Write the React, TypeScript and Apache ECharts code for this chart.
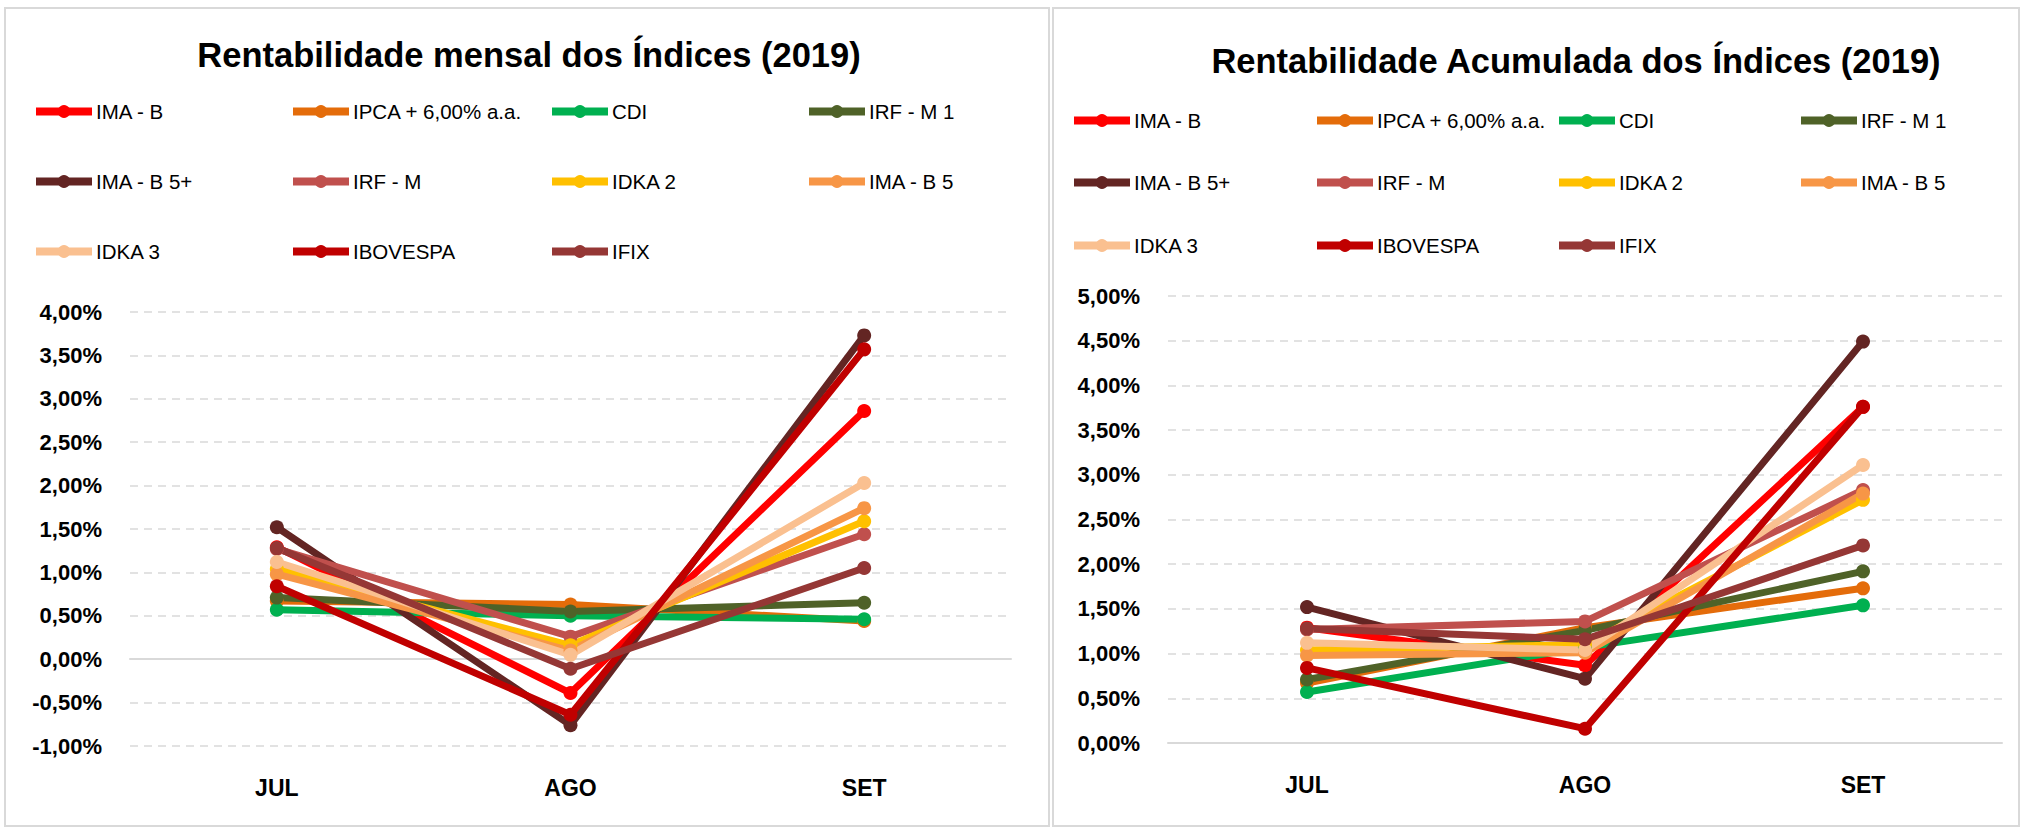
import React, { useEffect, useRef } from "react";
import * as echarts from "echarts";

const categories = ["JUL", "AGO", "SET"];
const seriesNames = [
  "IMA - B",
  "IPCA + 6,00% a.a.",
  "CDI",
  "IRF - M 1",
  "IMA - B 5+",
  "IRF - M",
  "IDKA 2",
  "IMA - B 5",
  "IDKA 3",
  "IBOVESPA",
  "IFIX",
];
const seriesColors = [
  "#FF0000",
  "#E46C0A",
  "#00B050",
  "#4F6228",
  "#632523",
  "#C0504D",
  "#FFC000",
  "#F79646",
  "#FAC090",
  "#C00000",
  "#953735",
];

// Rentabilidade mensal (%)
const monthlyImaB = [1.29, -0.39, 2.86];
const monthlyIpca = [0.67, 0.63, 0.44];
const monthlyCdi = [0.57, 0.5, 0.46];
const monthlyIrfM1 = [0.71, 0.55, 0.65];
const monthlyImaB5Plus = [1.52, -0.76, 3.73];
const monthlyIrfM = [1.27, 0.26, 1.44];
const monthlyIdka2 = [1.04, 0.16, 1.59];
const monthlyImaB5 = [0.98, 0.1, 1.74];
const monthlyIdka3 = [1.12, 0.05, 2.03];
const monthlyIbovespa = [0.84, -0.64, 3.57];
const monthlyIfix = [1.28, -0.11, 1.05];

// Rentabilidade acumulada (%)
const accImaB = [1.29, 0.87, 3.76];
const accIpca = [0.67, 1.29, 1.73];
const accCdi = [0.57, 1.07, 1.54];
const accIrfM1 = [0.71, 1.26, 1.92];
const accImaB5Plus = [1.52, 0.72, 4.49];
const accIrfM = [1.27, 1.36, 2.83];
const accIdka2 = [1.04, 1.1, 2.72];
const accImaB5 = [0.98, 1.01, 2.79];
const accIdka3 = [1.12, 1.04, 3.11];
const accIbovespa = [0.84, 0.16, 3.76];
const accIfix = [1.28, 1.16, 2.21];

const monthlyData = [
  monthlyImaB, monthlyIpca, monthlyCdi, monthlyIrfM1, monthlyImaB5Plus, monthlyIrfM,
  monthlyIdka2, monthlyImaB5, monthlyIdka3, monthlyIbovespa, monthlyIfix,
];
const accData = [
  accImaB, accIpca, accCdi, accIrfM1, accImaB5Plus, accIrfM,
  accIdka2, accImaB5, accIdka3, accIbovespa, accIfix,
];

const leftTitle = "Rentabilidade mensal dos Índices (2019)";
const rightTitle = "Rentabilidade Acumulada dos Índices (2019)";

const FONT = "'Liberation Sans', Arial, sans-serif";

export default function App() {
  const ref = useRef<HTMLDivElement>(null);

  useEffect(() => {
    if (!ref.current) return;
    const chart = echarts.init(ref.current, null, { renderer: "svg" });

    const fmt = (v: number) => v.toFixed(2).replace(".", ",") + "%";

    const leftCols = [32, 289, 548, 805];
    const rightCols = [1070, 1313, 1555, 1797];
    const leftRows = [113, 183, 253];
    const rightRows = [122, 184, 247];

    const legends: any[] = [];
    const legendBase = {
      padding: 0,
      itemWidth: 56,
      itemHeight: 16,
      itemGap: 4,
      lineStyle: { width: 8 },
      textStyle: { fontSize: 20.5, fontFamily: FONT, color: "#000", padding: [0, 0, 0, -1] },
    };
    seriesNames.forEach((name, i) => {
      const c = i % 4;
      const r = Math.floor(i / 4);
      legends.push({ ...legendBase, data: [name], left: leftCols[c], top: leftRows[r] - 12 });
      legends.push({ ...legendBase, data: [name], left: rightCols[c], top: rightRows[r] - 12 });
    });

    const gridLine = { lineStyle: { color: "#D9D9D9", width: 1.5, type: [8, 6] as any } };
    const yLabel = {
      fontSize: 22,
      fontWeight: "bold" as const,
      fontFamily: FONT,
      color: "#000",
      formatter: fmt,
      margin: 28,
    };
    const xLabel = {
      fontSize: 23,
      fontWeight: "bold" as const,
      fontFamily: FONT,
      color: "#000",
      margin: 30,
    };

    const makeSeries = (data: number[][], xIdx: number, yIdx: number) =>
      seriesNames.map((name, i) => ({
        name,
        type: "line",
        xAxisIndex: xIdx,
        yAxisIndex: yIdx,
        data: data[i],
        symbol: "circle",
        symbolSize: 14,
        lineStyle: { width: 7, color: seriesColors[i] },
        itemStyle: { color: seriesColors[i] },
        emphasis: { disabled: true },
      }));

    chart.setOption({
      animation: false,
      backgroundColor: "#fff",
      legend: legends,
      graphic: [
        {
          type: "rect",
          shape: { x: 5, y: 8, width: 1044, height: 818 },
          style: { fill: "none", stroke: "#D9D9D9", lineWidth: 2 },
          z: -1,
        },
        {
          type: "rect",
          shape: { x: 1053, y: 8, width: 966, height: 818 },
          style: { fill: "none", stroke: "#D9D9D9", lineWidth: 2 },
          z: -1,
        },
        {
          type: "text",
          x: 529,
          y: 55,
          style: {
            text: leftTitle,
            fontSize: 34.5,
            fontWeight: "bold",
            fontFamily: FONT,
            fill: "#000",
            textAlign: "center",
            textVerticalAlign: "middle",
          },
        },
        {
          type: "text",
          x: 1576,
          y: 61,
          style: {
            text: rightTitle,
            fontSize: 34.5,
            fontWeight: "bold",
            fontFamily: FONT,
            fill: "#000",
            textAlign: "center",
            textVerticalAlign: "middle",
          },
        },
      ],
      grid: [
        { left: 130, right: 2022 - 1011, top: 312, bottom: 830 - 746 },
        { left: 1168, right: 20, top: 296, bottom: 830 - 743 },
      ],
      xAxis: [
        {
          type: "category",
          gridIndex: 0,
          data: categories,
          boundaryGap: true,
          axisLine: { show: false, onZero: false },
          axisTick: { show: false },
          axisLabel: xLabel,
        },
        {
          type: "category",
          gridIndex: 0,
          data: categories,
          boundaryGap: true,
          axisLine: { show: true, onZero: true, lineStyle: { color: "#D9D9D9", width: 2 } },
          axisTick: { show: false },
          axisLabel: { show: false },
        },
        {
          type: "category",
          gridIndex: 1,
          data: categories,
          boundaryGap: true,
          axisLine: { show: true, lineStyle: { color: "#D9D9D9", width: 2 } },
          axisTick: { show: false },
          axisLabel: xLabel,
        },
      ],
      yAxis: [
        {
          type: "value",
          gridIndex: 0,
          min: -1,
          max: 4,
          interval: 0.5,
          axisLine: { show: false },
          axisTick: { show: false },
          axisLabel: yLabel,
          splitLine: gridLine,
        },
        {
          type: "value",
          gridIndex: 1,
          min: 0,
          max: 5,
          interval: 0.5,
          axisLine: { show: false },
          axisTick: { show: false },
          axisLabel: yLabel,
          splitLine: gridLine,
        },
      ],
      series: [...makeSeries(monthlyData, 0, 0), ...makeSeries(accData, 2, 1)],
    });

    return () => chart.dispose();
  }, []);

  return (
    <div
      ref={ref}
      style={{ position: "fixed", left: 0, top: 0, width: 2022, height: 830 }}
    />
  );
}
